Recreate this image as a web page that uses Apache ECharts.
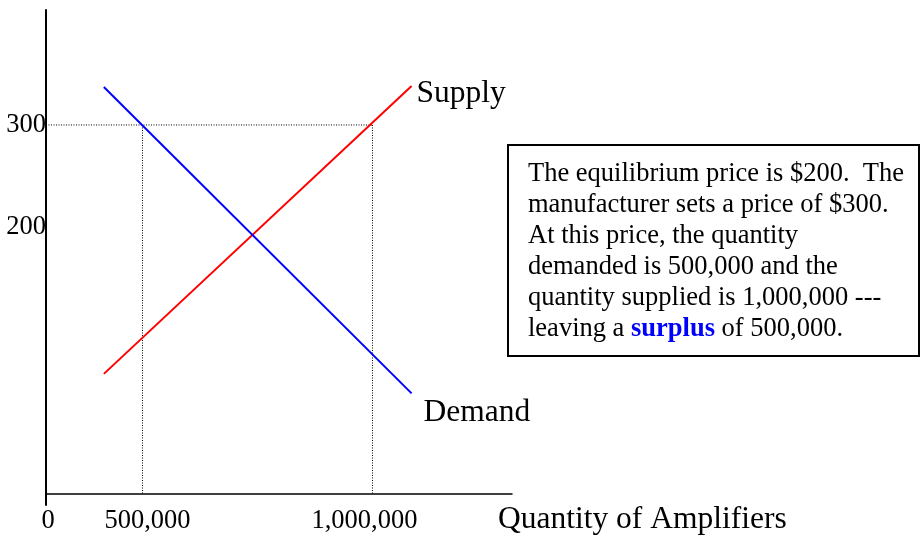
<!DOCTYPE html>
<html>
<head>
<meta charset="utf-8">
<script src="https://cdn.jsdelivr.net/npm/echarts@6/dist/echarts.min.js"></script>
<style>
  html, body { margin: 0; padding: 0; background: #fff; }
  #chart { width: 920px; height: 536px; }
</style>
</head>
<body>
<div id="chart"></div>
<script>
// values (quantity in units, price in $)
const supplyQty = [416000, 1085000];
const supplyPrice = [57, 338];
const demandQty = [416000, 1085000];
const demandPrice = [337, 38];
const setPrice = 300;
const qtyDemanded = 500000;
const qtySupplied = 1000000;
const priceTicks = [200, 300];
const qtyTicks = [500000, 1000000];

// axis bounds (schematic drawing, origin is labelled 0)
const qMin = 290218, qMax = 1303261;
const pMin = -71, pMax = 412.25;
const xAxisPrice = pMin + 11 / 1.029; // where the x axis line sits

const serif = 'Liberation Serif, Times New Roman, serif';

const chart = echarts.init(document.getElementById('chart'));

const supplyData = supplyQty.map((q, i) => [q, supplyPrice[i]]);
const demandData = demandQty.map((q, i) => [q, demandPrice[i]]);

const dotted = { color: '#000', width: 1, type: [1, 1.5] };
const guide = (name, data) => ({
  name, type: 'line', data, symbol: 'none', silent: true,
  lineStyle: dotted, z: 1
});

const option = {
  animation: false,
  grid: { left: 46, right: 408, top: 10, bottom: 29 },
  xAxis: {
    type: 'value',
    min: qMin,
    max: qMax,
    offset: -11,
    splitLine: { show: false },
    axisTick: { show: false },
    axisLine: { onZero: false, lineStyle: { color: '#000', width: 1.5 } },
    axisLabel: {
      customValues: [qMin].concat(qtyTicks),
      margin: 14,
      color: '#000',
      fontFamily: serif,
      fontSize: 26.5,
      formatter: (v) => {
        if (v === qMin) return '{z|0}';
        if (v === qtyTicks[0]) return '{a|' + v.toLocaleString('en-US') + '}';
        return '{b|' + v.toLocaleString('en-US') + '}';
      },
      rich: {
        z: { fontFamily: serif, fontSize: 26.5, color: '#000', padding: [0, 0, 0, 4] },
        a: { fontFamily: serif, fontSize: 26.5, color: '#000', padding: [0, 0, 0, 10] },
        b: { fontFamily: serif, fontSize: 26.5, color: '#000', padding: [0, 16, 0, 0] }
      }
    },
    name: 'Quantity of Amplifiers',
    nameLocation: 'end',
    nameGap: -14,
    nameTextStyle: {
      fontFamily: serif, fontSize: 31.5, color: '#000',
      align: 'left', verticalAlign: 'top', padding: [10, 0, 0, 0]
    }
  },
  yAxis: {
    type: 'value',
    min: pMin,
    max: pMax,
    splitLine: { show: false },
    axisTick: { show: false },
    axisLine: { onZero: false, lineStyle: { color: '#000', width: 2 } },
    axisLabel: {
      customValues: priceTicks,
      margin: 0,
      color: '#000',
      fontFamily: serif,
      fontSize: 26.5
    }
  },
  series: [
    guide('price line', [[qMin, setPrice], [qtySupplied, setPrice]]),
    guide('qty demanded', [[qtyDemanded, setPrice], [qtyDemanded, xAxisPrice]]),
    guide('qty supplied', [[qtySupplied, setPrice], [qtySupplied, xAxisPrice]]),
    {
      name: 'Supply', type: 'line', data: supplyData, symbol: 'none', z: 3,
      lineStyle: { color: '#ff0000', width: 2 },
      endLabel: {
        show: true, formatter: '{a}', distance: 5, offset: [0, 8],
        fontFamily: serif, fontSize: 31.5, color: '#000'
      }
    },
    {
      name: 'Demand', type: 'line', data: demandData, symbol: 'none', z: 3,
      lineStyle: { color: '#0000ff', width: 2 },
      endLabel: {
        show: true, formatter: '{a}', distance: 12, offset: [0, 19],
        fontFamily: serif, fontSize: 31.5, color: '#000'
      }
    }
  ],
  graphic: [
    {
      type: 'rect',
      shape: { x: 508, y: 145, width: 411, height: 211 },
      style: { fill: '#fff', stroke: '#000', lineWidth: 2 }
    },
    {
      type: 'text',
      x: 528,
      y: 159,
      style: {
        text: 'The equilibrium price is $200.  The\n' +
              'manufacturer sets a price of $300.\n' +
              'At this price, the quantity\n' +
              'demanded is 500,000 and the\n' +
              'quantity supplied is 1,000,000 ---\n' +
              'leaving a {s|surplus} of 500,000.',
        fontFamily: serif,
        fontSize: 26.5,
        lineHeight: 31,
        fill: '#000',
        rich: {
          s: { fontFamily: serif, fontSize: 26.5, lineHeight: 31, fontWeight: 'bold', fill: '#0000ff', color: '#0000ff' }
        }
      }
    }
  ]
};

chart.setOption(option);
window.addEventListener('resize', () => chart.resize());
</script>
</body>
</html>
